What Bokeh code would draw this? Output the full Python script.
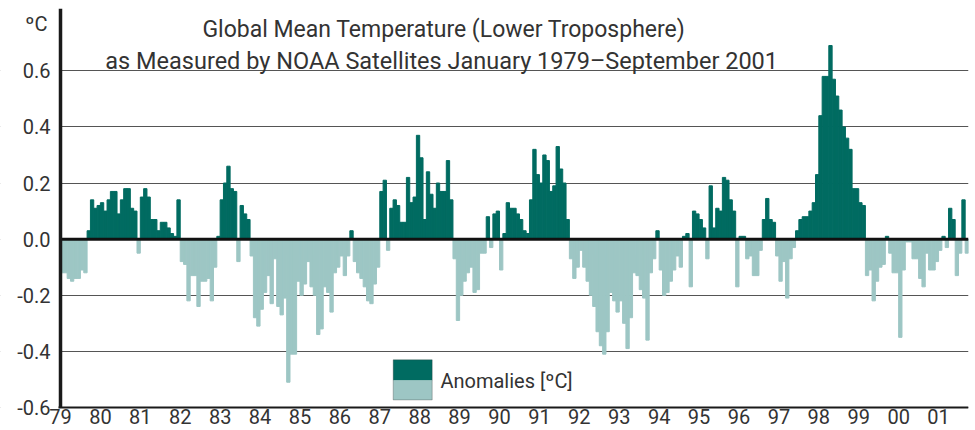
from bokeh.plotting import figure
from bokeh.models import (Range1d, FixedTicker, PrintfTickFormatter, Label,
                          BoxAnnotation, ColumnDataSource)
from bokeh.embed import file_html
from bokeh.resources import INLINE

# Monthly anomalies (degC), January 1979 - September 2001
a1979 = [-0.12, -0.12, -0.14, -0.15, -0.14, -0.14, -0.11, -0.12, 0.03, 0.14, 0.11, 0.12]
a1980 = [0.13, 0.10, 0.14, 0.17, 0.17, 0.09, 0.14, 0.18, 0.18, 0.11, 0.10, -0.05]
a1981 = [0.15, 0.18, 0.15, 0.07, 0.07, 0.03, 0.06, 0.06, 0.04, 0.02, 0.01, 0.14]
a1982 = [-0.08, -0.09, -0.22, -0.13, -0.13, -0.24, -0.15, -0.15, -0.14, -0.22, -0.10, 0.01]
a1983 = [0.14, 0.20, 0.26, 0.18, 0.17, -0.08, 0.12, 0.09, 0.07, -0.06, -0.28, -0.31]
a1984 = [-0.25, -0.19, -0.13, -0.23, -0.07, -0.24, -0.27, -0.21, -0.51, -0.41, -0.41, -0.15]
a1985 = [-0.20, -0.16, -0.08, -0.17, -0.20, -0.34, -0.32, -0.17, -0.19, -0.26, -0.12, -0.10]
a1986 = [-0.06, -0.13, -0.06, 0.03, -0.08, -0.12, -0.14, -0.17, -0.22, -0.23, -0.16, -0.10]
a1987 = [0.17, 0.21, -0.04, 0.11, 0.14, 0.12, 0.06, 0.06, 0.22, 0.13, 0.15, 0.37]
a1988 = [0.29, 0.07, 0.24, 0.16, 0.11, 0.20, 0.17, 0.17, 0.28, 0.14, -0.07, -0.29]
a1989 = [-0.20, -0.15, -0.12, -0.10, -0.19, -0.18, -0.05, -0.05, 0.08, -0.03, 0.09, 0.10]
a1990 = [-0.11, 0.02, 0.13, 0.11, 0.11, 0.09, 0.07, 0.03, 0.02, 0.14, 0.32, 0.23]
a1991 = [0.20, 0.30, 0.28, 0.17, 0.19, 0.33, 0.25, 0.20, 0.07, -0.07, -0.14, -0.10]
a1992 = [-0.04, -0.10, -0.15, -0.20, -0.24, -0.33, -0.38, -0.41, -0.33, -0.19, -0.22, -0.26]
a1993 = [-0.22, -0.30, -0.39, -0.28, -0.12, -0.13, -0.18, -0.21, -0.36, -0.12, -0.07, 0.03]
a1994 = [-0.11, -0.20, -0.19, -0.15, -0.11, -0.06, -0.10, 0.01, 0.02, -0.17, 0.10, 0.09]
a1995 = [0.07, 0.04, -0.07, 0.19, 0.04, 0.11, 0.10, 0.22, 0.21, 0.14, 0.10, -0.17]
a1996 = [0.01, 0.01, -0.07, -0.06, -0.13, -0.13, -0.04, 0.07, 0.145, 0.07, 0.06, -0.06]
a1997 = [-0.15, -0.08, -0.21, -0.07, -0.03, 0.03, 0.07, 0.08, 0.08, 0.10, 0.13, 0.23]
a1998 = [0.44, 0.58, 0.58, 0.69, 0.57, 0.51, 0.46, 0.40, 0.36, 0.32, 0.18, 0.18]
a1999 = [0.13, 0.12, -0.13, -0.11, -0.22, -0.15, -0.10, -0.09, 0.01, -0.05, -0.12, -0.12]
a2000 = [-0.35, -0.11, -0.01, -0.01, -0.07, -0.07, -0.14, -0.17, -0.05, -0.11, -0.11, -0.08]
a2001 = [-0.04, 0.01, -0.03, 0.11, 0.07, -0.13, -0.05, 0.14, -0.05]

years = list(range(1979, 2002))
year_labels = ["79", "80", "81", "82", "83", "84", "85", "86", "87", "88", "89", "90",
               "91", "92", "93", "94", "95", "96", "97", "98", "99", "00", "01"]
y_ticks = [-0.6, -0.4, -0.2, 0.0, 0.2, 0.4, 0.6]

title_1 = "Global Mean Temperature (Lower Troposphere)"
title_2 = "as Measured by NOAA Satellites January 1979\u2013September 2001"
unit_label = "\u00baC"
legend_label = "Anomalies [\u00baC]"

DARK = "#006B61"
LIGHT = "#9DC6C4"
TEXT = "#333333"
FONT = "Roboto"

monthly = (a1979 + a1980 + a1981 + a1982 + a1983 + a1984 + a1985 + a1986 + a1987 +
           a1988 + a1989 + a1990 + a1991 + a1992 + a1993 + a1994 + a1995 + a1996 +
           a1997 + a1998 + a1999 + a2000 + a2001)
xs = [1979 + (i + 0.5) / 12 for i in range(len(monthly))]
cols = [DARK if v >= 0 else LIGHT for v in monthly]
src = ColumnDataSource(dict(x=xs, top=monthly, color=cols))

X0 = 1979
X1 = 1979 + len(monthly) / 12
Y0 = y_ticks[0]
YTOP = 0.822

p = figure(width=975, height=430, x_range=Range1d(X0 - 1.503, X1),
           y_range=Range1d(-0.682, YTOP), output_backend="svg", toolbar_location=None,
           min_border_left=0, min_border_right=7, min_border_top=8, min_border_bottom=0)
p.outline_line_color = None
p.background_fill_color = "white"
p.border_fill_color = "white"

# grid lines only to the right of the y axis
p.xgrid.visible = False
p.ygrid.grid_line_color = "#555555"
p.ygrid.grid_line_width = 1
p.add_layout(BoxAnnotation(left=X0 - 3, right=X0, fill_color="white", fill_alpha=1,
                           line_color=None, level="underlay"))

p.vbar(x="x", width=1 / 12, top="top", bottom=0, fill_color="color",
       line_color="color", line_width=1, source=src)

# zero baseline drawn over the bars
p.line(x=[X0, X1], y=[0, 0], line_color="#111111", line_width=3)

# axes (placed at fixed data locations so that labels sit inside the canvas)
p.yaxis.fixed_location = X0
p.yaxis.bounds = (Y0, YTOP)
p.yaxis.ticker = FixedTicker(ticks=y_ticks)
p.yaxis.formatter = PrintfTickFormatter(format="%.1f")
p.yaxis.major_tick_out = 0
p.yaxis.major_tick_in = 0
p.yaxis.minor_tick_out = 0
p.yaxis.minor_tick_in = 0
p.yaxis.axis_line_width = 3.5
p.yaxis.axis_line_color = "#1a1a1a"
p.yaxis.major_label_text_font = FONT
p.yaxis.major_label_text_font_size = "20px"
p.yaxis.major_label_text_color = TEXT
p.yaxis.major_label_standoff = 10

p.xaxis.fixed_location = Y0
p.xaxis.ticker = FixedTicker(ticks=years)
p.xaxis.bounds = (X0 - 0.05, X1)
p.xaxis.major_label_overrides = {y: lab for y, lab in zip(years, year_labels)}
p.xaxis.major_tick_out = 0
p.xaxis.major_tick_in = 0
p.xaxis.minor_tick_out = 0
p.xaxis.minor_tick_in = 0
p.xaxis.axis_line_width = 2
p.xaxis.axis_line_color = "#1a1a1a"
p.xaxis.major_label_text_font = FONT
p.xaxis.major_label_text_font_size = "20px"
p.xaxis.major_label_text_color = TEXT
p.xaxis.major_label_standoff = 2

# titles
p.add_layout(Label(x=1988.61, y=0.747, text=title_1, text_align="center",
                   text_baseline="alphabetic", text_font=FONT, text_font_size="23px",
                   text_color=TEXT))
p.add_layout(Label(x=1988.55, y=0.634, text=title_2, text_align="center",
                   text_baseline="alphabetic", text_font=FONT, text_font_size="23.5px",
                   text_color=TEXT))
p.add_layout(Label(x=X0, y=0.765, x_offset=-13, text=unit_label, text_align="right",
                   text_baseline="alphabetic", text_font=FONT, text_font_size="20px",
                   text_color=TEXT))

# legend
p.add_layout(BoxAnnotation(left=1987.336, right=1988.313, top=-0.43, bottom=-0.504,
                           fill_color=DARK, fill_alpha=1, line_color=None))
p.add_layout(BoxAnnotation(left=1987.336, right=1988.313, top=-0.504, bottom=-0.573,
                           fill_color=LIGHT, fill_alpha=1, line_color=None))
p.add_layout(BoxAnnotation(left=1987.336, right=1988.313, top=-0.43, bottom=-0.573,
                           fill_alpha=0, line_color="#333333", line_width=1))
p.add_layout(Label(x=1988.52, y=-0.504, text=legend_label, text_align="left",
                   text_baseline="middle", text_font=FONT, text_font_size="20px",
                   text_color=TEXT))

open("out.html", "w").write(file_html(p, INLINE))
